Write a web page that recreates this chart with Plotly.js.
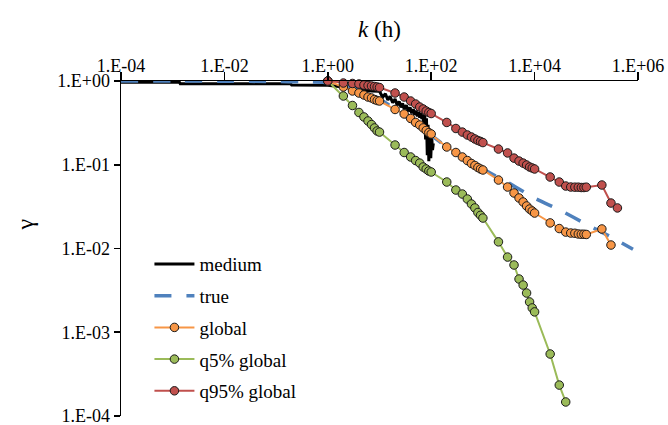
<!DOCTYPE html>
<html>
<head>
<meta charset="utf-8">
<script src="https://cdn.plot.ly/plotly-3.0.1.min.js"></script>
<style>html,body{margin:0;padding:0;background:#fff;}#chart{width:668px;height:425px;}</style>
</head>
<body>
<div id="chart"></div>
<script>
// k values (h)
const kMedium = [0.0001, 0.00135, 0.0014, 0.19, 0.2, 1, 2, 3, 5, 7,
  10, 11.5, 13, 14.5, 16, 18, 20, 22, 24, 26, 28, 30, 33, 36, 39, 42, 45, 48, 51, 54, 57, 60, 63, 66, 69,
  72, 75, 78, 81, 84, 87, 90, 94, 98, 102, 106, 110];
const gMedium = [0.965, 0.965, 0.93, 0.93, 0.895, 0.89, 0.85, 0.82, 0.78, 0.76,
  0.753, 0.640, 0.705, 0.592, 0.656, 0.550, 0.608, 0.513, 0.571, 0.484, 0.542, 0.461, 0.513, 0.434, 0.484, 0.411, 0.461, 0.393, 0.442, 0.378, 0.425, 0.364, 0.411, 0.352, 0.398,
  0.30, 0.40, 0.20, 0.36, 0.13, 0.30, 0.11, 0.25, 0.12, 0.22, 0.15, 0.18];

const kTrue = [0.0001, 0.001, 0.01, 0.1, 0.316, 1, 3.16, 10, 31.6, 100, 200, 316, 1000, 3160, 10000, 31600, 100000, 316000, 800000];
const gTrue = [1.0, 0.999, 0.995, 0.985, 0.975, 0.955, 0.83, 0.61, 0.38, 0.225, 0.163, 0.137, 0.089, 0.0605, 0.040, 0.0285, 0.0195, 0.0135, 0.0098];

const kGlobal = [1, 2, 3, 4, 5, 6, 7, 8, 9, 10,
  20, 30, 40, 50, 60, 70, 80, 90, 100,
  200, 300, 400, 500, 600, 700, 800, 900, 1000,
  2000, 3000, 4000, 5000, 6000, 7000, 8000, 9000, 10000,
  20000, 30000, 40000, 50000, 60000, 70000, 80000, 90000, 100000,
  200000, 300000];
const gGlobal = [1, 0.848, 0.760, 0.719, 0.681, 0.644, 0.627, 0.601, 0.585, 0.577,
  0.457, 0.404, 0.357, 0.320, 0.298, 0.275, 0.2565, 0.242, 0.233,
  0.163, 0.140, 0.1238, 0.1123, 0.1035, 0.098, 0.0927, 0.089, 0.0866,
  0.0657, 0.0542, 0.046, 0.0401, 0.0359, 0.0322, 0.0296, 0.028, 0.0265,
  0.0202, 0.0173, 0.0157, 0.0153, 0.0152, 0.0149, 0.0148, 0.0148, 0.0147,
  0.0171, 0.0110];

const kQ5 = [1, 2, 3, 4, 5, 6, 7, 8, 9, 10,
  20, 30, 40, 50, 60, 70, 80, 90, 100,
  200, 300, 400, 500, 600, 700, 800, 900, 1000,
  2000, 3000, 4000, 5000, 6000, 7000, 8000, 9000, 10000,
  20000, 30000, 40000];
const gQ5 = [1, 0.662, 0.510, 0.421, 0.372, 0.333, 0.302, 0.275, 0.253, 0.2455,
  0.172, 0.140, 0.1238, 0.1123, 0.1046, 0.094, 0.089, 0.0842, 0.0819,
  0.0622, 0.0499, 0.0447, 0.039, 0.034, 0.0305, 0.0269, 0.0249, 0.0231,
  0.012, 0.0079, 0.00635, 0.00432, 0.00366, 0.00294, 0.0023, 0.00195, 0.00175,
  0.00055, 0.000234, 0.000147];

const kQ95 = [1, 2, 3, 4, 5, 6, 7, 8, 9, 10,
  20, 30, 40, 50, 60, 70, 80, 90, 100,
  200, 300, 400, 500, 600, 700, 800, 900, 1000,
  2000, 3000, 4000, 5000, 6000, 7000, 8000, 9000, 10000,
  20000, 30000, 40000, 50000, 60000, 70000, 80000, 90000, 100000,
  200000, 300000, 400000];
const gQ95 = [1, 0.946, 0.934, 0.921, 0.896, 0.884, 0.872, 0.860, 0.848, 0.836,
  0.719, 0.644, 0.577, 0.531, 0.489, 0.463, 0.438, 0.421, 0.409,
  0.320, 0.271, 0.2455, 0.2267, 0.2144, 0.203, 0.195, 0.1896, 0.184,
  0.154, 0.1383, 0.120, 0.1107, 0.1046, 0.0993, 0.094, 0.0915, 0.089,
  0.0714, 0.0622, 0.0557, 0.0542, 0.054, 0.054, 0.0535, 0.0535, 0.054,
  0.0573, 0.0349, 0.0305];

const xTickVals = [1e-4, 1e-2, 1, 1e2, 1e4, 1e6];
const xTickText = ['1.E-04', '1.E-02', '1.E+00', '1.E+02', '1.E+04', '1.E+06'];
const yTickVals = [1e-4, 1e-3, 1e-2, 1e-1, 1];
const yTickText = ['1.E-04', '1.E-03', '1.E-02', '1.E-01', '1.E+00'];

const FONT = 'Liberation Serif';
const mk = (c) => ({size: 8.5, color: c, line: {color: '#1a1a1a', width: 1}});

function draw() {
  const traces = [
    {x: kMedium, y: gMedium, name: 'medium', mode: 'lines', legendgroup: 'a',
     line: {color: '#000000', width: 3}},
    {x: kTrue, y: gTrue, name: 'true', mode: 'lines', legendgroup: 'b',
     line: {color: '#4F81BD', width: 3.5, dash: '17px,15px', shape: 'spline', smoothing: 0.6}},
    {x: kGlobal, y: gGlobal, name: 'global', mode: 'lines+markers', legendgroup: 'c', cliponaxis: false,
     line: {color: '#F79646', width: 2}, marker: mk('#F79646')},
    {x: kQ5, y: gQ5, name: 'q5% global', mode: 'lines+markers', legendgroup: 'd', cliponaxis: false,
     line: {color: '#9BBB59', width: 2}, marker: mk('#9BBB59')},
    {x: kQ95, y: gQ95, name: 'q95% global', mode: 'lines+markers', legendgroup: 'e', cliponaxis: false,
     line: {color: '#C0504D', width: 2}, marker: mk('#C0504D')}
  ];

  const layout = {
    width: 668, height: 425,
    margin: {l: 121, r: 30, t: 81, b: 9},
    paper_bgcolor: '#fff', plot_bgcolor: '#fff',
    font: {family: FONT, size: 18, color: '#000'},
    showlegend: true,
    legend: {x: 0.055, y: 0.51, xanchor: 'left', yanchor: 'top', bgcolor: 'rgba(0,0,0,0)',
      font: {family: FONT, size: 19, color: '#000'}, tracegroupgap: 4, itemwidth: 40},
    xaxis: {type: 'log', side: 'top', range: [-4, 6], showgrid: false, zeroline: false,
      showline: true, linecolor: '#000', linewidth: 1.5,
      ticks: 'outside', ticklen: 8, tickwidth: 1.5, tickcolor: '#000', ticklabelstandoff: -8,
      ticklabeloverflow: 'allow',
      tickmode: 'array', tickvals: xTickVals, ticktext: xTickText,
      tickfont: {family: FONT, size: 18, color: '#000'},
      title: {text: '<i>k</i> (h)', font: {family: FONT, size: 23, color: '#000'}, standoff: 12}},
    yaxis: {type: 'log', range: [-4.0001, 0], showgrid: false, zeroline: false,
      showline: true, linecolor: '#000', linewidth: 1.5,
      ticks: 'outside', ticklen: 6, tickwidth: 1.5, tickcolor: '#000',
      ticklabeloverflow: 'allow',
      tickmode: 'array', tickvals: yTickVals, ticktext: yTickText,
      tickfont: {family: FONT, size: 18, color: '#000'}},
    annotations: [{text: 'γ', xref: 'paper', yref: 'paper', x: -0.215, y: 0.571,
      showarrow: false, textangle: -90, font: {family: FONT, size: 24, color: '#000'}}]
  };

  Plotly.newPlot('chart', traces, layout, {displayModeBar: false, staticPlot: true});
}

let drawn = false;
function go() { if (!drawn) { drawn = true; draw(); } }
if (document.fonts && document.fonts.load) {
  Promise.all([
    document.fonts.load('18px "Liberation Serif"', 'global 1.E+02 γ'),
    document.fonts.load('italic 18px "Liberation Serif"', 'k')
  ]).then(go, go);
  setTimeout(go, 1500);
} else {
  go();
}
</script>
</body>
</html>
